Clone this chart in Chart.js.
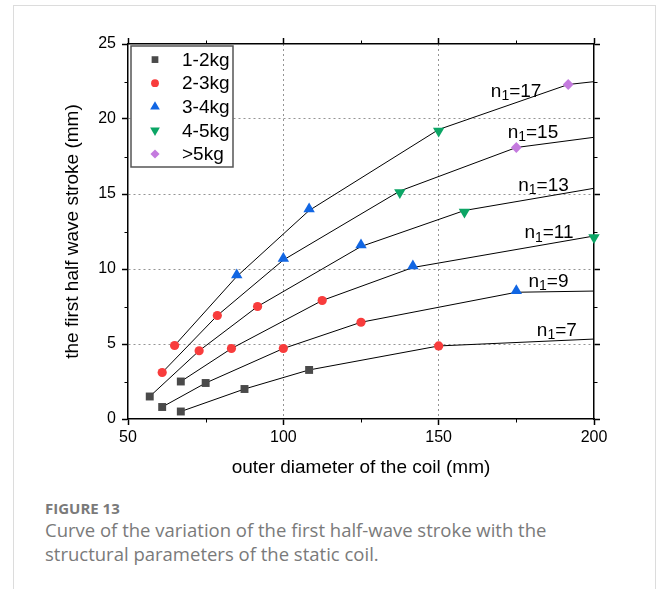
<!DOCTYPE html>
<html>
<head>
<meta charset="utf-8">
<script src="https://cdn.jsdelivr.net/npm/chart.js@4/dist/chart.umd.min.js"></script>
<style>
  html, body { margin: 0; padding: 0; background: #fff; }
  body { width: 656px; height: 589px; position: relative; overflow: hidden; }
  #frame { position: absolute; left: 13px; top: 5px; width: 641px; height: 620px; border: 1px solid #dcdcdc; border-bottom: none; }
  #wrap { position: absolute; left: 0; top: 0; width: 656px; height: 482px; }
  #caption { position: absolute; left: 45px; top: 499px; font-family: 'Open Sans', sans-serif; color: #7a7a7a; }
  #caption .fig { font-weight: bold; font-size: 15px; line-height: 19px; }
  #caption .txt { font-size: 18.5px; line-height: 24px; }
</style>
</head>
<body>
<div id="frame"></div>
<div id="wrap"><canvas id="chart"></canvas></div>
<div id="caption">
  <div class="fig">FIGURE 13</div>
  <div class="txt">Curve of the variation of the first half-wave stroke with the<br>structural parameters of the static coil.</div>
</div>
<script>
// fitted curves, one per number of turns n1
const n7X  = [67, 87.5, 108.3, 150, 200];
const n7Y  = [0.5, 2.0, 3.27, 4.87, 5.33];
const n9X  = [61, 75, 100, 125, 175, 200];
const n9Y  = [0.8, 2.4, 4.7, 6.45, 8.45, 8.53];
const n11X = [67, 83.3, 112.5, 141.7, 200];
const n11Y = [2.5, 4.7, 7.9, 10.1, 12.2];
const n13X = [57, 72.9, 91.7, 125, 158.3, 200];
const n13Y = [1.5, 4.55, 7.5, 11.5, 13.9, 15.38];
const n15X = [61, 78.75, 100, 137.5, 175, 200];
const n15Y = [3.1, 6.9, 10.6, 15.2, 18.1, 18.78];
const n17X = [65, 85, 108.3, 150, 191.7, 200];
const n17Y = [4.9, 9.5, 13.9, 19.3, 22.3, 22.49];

const curveNames = ['7', '9', '11', '13', '15', '17'];
// where each n1 label sits (data units, left edge / baseline)
const labelX = [181.6, 178.9, 177.6, 175.6, 172.2, 166.8];
const labelY = [5.55, 8.82, 12.05, 15.22, 18.75, 21.49];

// markers by coil mass
const kg12X = [57, 61, 67, 67, 75, 87.5, 108.3];
const kg12Y = [1.5, 0.8, 2.5, 0.5, 2.4, 2.0, 3.27];
const kg23X = [61, 65, 72.9, 78.75, 83.3, 91.7, 100, 112.5, 125, 150];
const kg23Y = [3.1, 4.9, 4.55, 6.9, 4.7, 7.5, 4.7, 7.9, 6.45, 4.87];
const kg34X = [85, 100, 108.3, 125, 141.7, 175];
const kg34Y = [9.6, 10.7, 14.0, 11.6, 10.2, 8.55];
const kg45X = [137.5, 150, 158.3, 200];
const kg45Y = [15.1, 19.2, 13.8, 12.1];
const kg5X  = [175, 191.7];
const kg5Y  = [18.1, 22.3];

const massNames = ['1-2kg', '2-3kg', '3-4kg', '4-5kg', '>5kg'];

const pts = (xs, ys) => xs.map((x, i) => ({ x, y: ys[i] }));

const curves = [[n7X, n7Y], [n9X, n9Y], [n11X, n11Y], [n13X, n13Y], [n15X, n15Y], [n17X, n17Y]];
const markerSets = [
  { data: pts(kg12X, kg12Y), color: '#4a4a4a', style: 'rect', r: 5.6, rot: 0 },
  { data: pts(kg23X, kg23Y), color: '#f83c3c', style: 'circle', r: 4.6, rot: 0 },
  { data: pts(kg34X, kg34Y), color: '#1166e3', style: 'triangle', r: 6.6, rot: 0 },
  { data: pts(kg45X, kg45Y), color: '#0ba565', style: 'triangle', r: 6.6, rot: 180 },
  { data: pts(kg5X, kg5Y), color: '#c47ade', style: 'rectRot', r: 5.4, rot: 0 }
];

const datasets = [];
markerSets.forEach((m, i) => {
  datasets.push({
    label: massNames[i],
    data: m.data,
    showLine: false,
    pointStyle: m.style,
    pointRotation: m.rot,
    pointRadius: m.r,
    pointHoverRadius: m.r,
    backgroundColor: m.color,
    borderColor: m.color,
    borderWidth: 0,
    clip: false,
    order: 0
  });
});
curves.forEach((c, i) => {
  datasets.push({
    label: 'n1=' + curveNames[i],
    data: pts(c[0], c[1]),
    showLine: true,
    borderColor: '#000',
    borderWidth: 1,
    pointRadius: 0,
    tension: 0,
    order: 1
  });
});

const FONT = "'Liberation Sans', Arial, sans-serif";
const isEdge = (v, a, b) => v === a || v === b;

// minor ticks, legend box and n1 labels
const extras = {
  id: 'extras',
  afterDraw(chart) {
    const { ctx, chartArea: ca, scales } = chart;
    const sx = scales.x, sy = scales.y;
    ctx.save();
    ctx.strokeStyle = '#000';
    ctx.lineWidth = 1;
    ctx.beginPath();
    for (let v = 75; v < 200; v += 50) {
      const px = Math.round(sx.getPixelForValue(v)) + 0.5;
      ctx.moveTo(px, ca.bottom); ctx.lineTo(px, ca.bottom + 3.5);
      ctx.moveTo(px, ca.top); ctx.lineTo(px, ca.top - 3.5);
    }
    for (let v = 2.5; v < 25; v += 5) {
      const py = Math.round(sy.getPixelForValue(v)) + 0.5;
      ctx.moveTo(ca.left, py); ctx.lineTo(ca.left - 3.5, py);
      ctx.moveTo(ca.right, py); ctx.lineTo(ca.right + 3.5, py);
    }
    ctx.stroke();

    // legend
    const lx = ca.left + 3, ly = ca.top + 2, lw = 102, lh = 121;
    ctx.fillStyle = '#fff';
    ctx.fillRect(lx, ly, lw, lh);
    ctx.strokeStyle = '#555';
    ctx.lineWidth = 1.5;
    ctx.strokeRect(lx, ly, lw, lh);
    ctx.font = '19px ' + FONT;
    ctx.textBaseline = 'middle';
    ctx.textAlign = 'left';
    markerSets.forEach((m, i) => {
      const cy = ly + 13.6 + i * 23.6;
      ctx.fillStyle = m.color;
      Chart.helpers.drawPoint(ctx, { pointStyle: m.style, rotation: m.rot, radius: m.r * 0.85, borderWidth: 0 }, lx + 24, cy);
      ctx.fillStyle = '#000';
      ctx.fillText(massNames[i], lx + 51, cy + 1);
    });

    // n1 labels
    ctx.textBaseline = 'alphabetic';
    ctx.fillStyle = '#000';
    curveNames.forEach((name, i) => {
      let x = sx.getPixelForValue(labelX[i]);
      const y = sy.getPixelForValue(labelY[i]);
      ctx.font = '19px ' + FONT;
      ctx.fillText('n', x, y);
      x += ctx.measureText('n').width;
      ctx.font = '14px ' + FONT;
      ctx.fillText('1', x, y + 3.5);
      x += ctx.measureText('1').width;
      ctx.font = '19px ' + FONT;
      ctx.fillText('=' + name, x, y);
    });
    ctx.restore();
  }
};

const gridOpts = (a, b) => ({
  color: c => (c.tick && isEdge(c.tick.value, a, b)) ? 'rgba(0,0,0,0)' : '#949494',
  lineWidth: 1,
  tickColor: '#000',
  tickLength: 6,
  tickWidth: 1.5,
  tickBorderDash: []
});
const borderOpts = { display: true, color: '#000', width: 1.5, dash: [2, 3] };

new Chart(document.getElementById('chart'), {
  type: 'scatter',
  data: { datasets },
  options: {
    responsive: true,
    maintainAspectRatio: false,
    animation: false,
    layout: { padding: 0 },
    plugins: { legend: { display: false }, tooltip: { enabled: false } },
    scales: {
      x: {
        type: 'linear', position: 'bottom', min: 50, max: 200,
        ticks: { stepSize: 50, color: '#000', padding: 3, font: { family: FONT, size: 16 } },
        grid: gridOpts(50, 200),
        border: borderOpts,
        title: { display: true, text: 'outer diameter of the coil (mm)', color: '#000',
                 font: { family: FONT, size: 19 }, padding: { top: 0, bottom: 3 } },
        afterFit: s => { s.height = 63; }
      },
      x2: {
        type: 'linear', position: 'top', min: 50, max: 200,
        ticks: { stepSize: 50, display: false },
        grid: { drawOnChartArea: false, tickColor: '#000', tickLength: 6, tickWidth: 1.5 },
        border: { display: true, color: '#000', width: 1.5 },
        afterFit: s => { s.height = 44; }
      },
      y: {
        type: 'linear', position: 'left', min: 0, max: 25,
        ticks: { stepSize: 5, color: '#000', padding: 6, font: { family: FONT, size: 16 } },
        grid: gridOpts(0, 25),
        border: borderOpts,
        title: { display: true, text: 'the first half wave stroke (mm)', color: '#000',
                 font: { family: FONT, size: 19 }, padding: { top: 61, bottom: 0 } },
        afterFit: s => { s.width = 128; }
      },
      y2: {
        type: 'linear', position: 'right', min: 0, max: 25,
        ticks: { stepSize: 5, display: false },
        grid: { drawOnChartArea: false, tickColor: '#000', tickLength: 6, tickWidth: 1.5 },
        border: { display: true, color: '#000', width: 1.5 },
        afterFit: s => { s.width = 62; }
      }
    }
  },
  plugins: [extras]
});
</script>
</body>
</html>
